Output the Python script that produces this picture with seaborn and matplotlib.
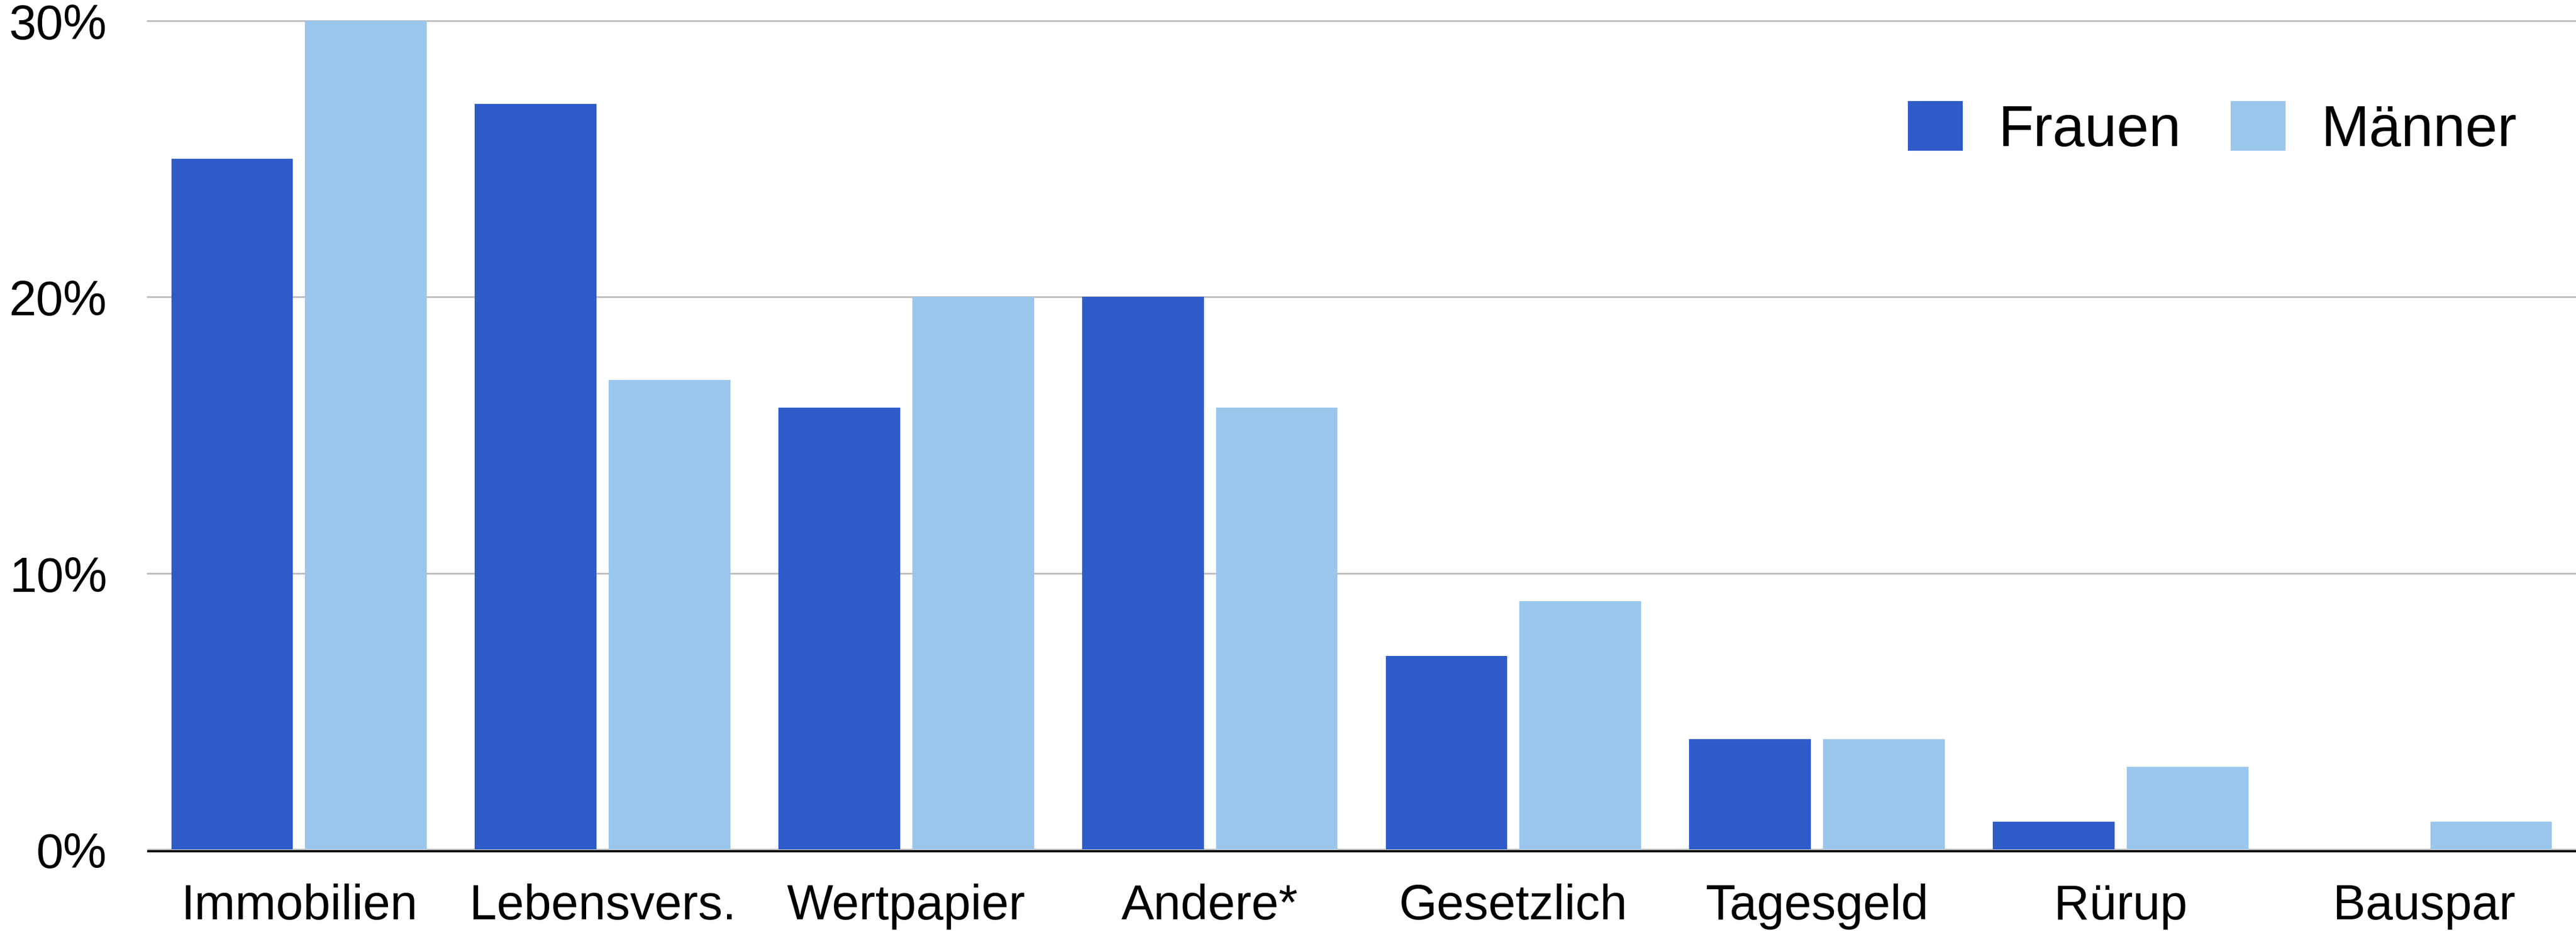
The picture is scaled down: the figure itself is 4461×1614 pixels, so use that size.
import matplotlib
matplotlib.use("Agg")
import matplotlib.pyplot as plt
import seaborn as sns
import pandas as pd
from matplotlib.patches import Patch

# Anteile der Altersvorsorge-Formen nach Geschlecht (in %)
categories = ["Immobilien", "Lebensvers.", "Wertpapier", "Andere*",
              "Gesetzlich", "Tagesgeld", "Rürup", "Bauspar"]
frauen = [25, 27, 16, 20, 7, 4, 1, 0]
maenner = [30, 17, 20, 16, 9, 4, 3, 1]
series = ["Frauen", "Männer"]
colors = ["#2F5BC9", "#9BC6EC"]
y_ticks = [0, 10, 20, 30]
y_tick_labels = ["0%", "10%", "20%", "30%"]

df = pd.DataFrame({
    "Kategorie": categories * 2,
    "Gruppe": [series[0]] * len(categories) + [series[1]] * len(categories),
    "Anteil": frauen + maenner,
})

sns.set_theme(style="white")
plt.rcParams["font.family"] = ["Liberation Sans", "DejaVu Sans"]
plt.rcParams["text.color"] = "black"

W, H, DPI = 4461, 1615, 100
fig = plt.figure(figsize=(W / DPI, H / DPI), dpi=DPI)
ax = fig.add_axes([255 / W, (H - 1472) / H, (W - 255) / W, (1472 - 37) / H])

sns.barplot(data=df, x="Kategorie", y="Anteil", hue="Gruppe",
            order=categories, hue_order=series, palette=colors,
            width=0.882, gap=0.091, saturation=1, legend=False,
            linewidth=0, ax=ax, zorder=3)

ax.set_xlim(-0.5, len(categories) - 0.5)
ax.set_ylim(0, 30)
ax.set_yticks(y_ticks)
ax.set_yticklabels(y_tick_labels)
ax.set_xlabel("")
ax.set_ylabel("")

for v in y_ticks[1:]:
    ax.axhline(v, color="#C0C0C0", linewidth=2.2, zorder=1, clip_on=False)
ax.axhline(0, color="#A8A8A8", linewidth=2.2, zorder=2)
ax.plot([0, 1], [-0.06, -0.06], transform=ax.get_yaxis_transform(),
        color="black", linewidth=3.0, zorder=4, clip_on=False,
        solid_capstyle="butt")

for s in ax.spines.values():
    s.set_visible(False)

ax.tick_params(axis="x", length=0, pad=42, labelsize=61, labelcolor="black")
ax.tick_params(axis="y", length=0, pad=50, labelsize=61, labelcolor="black")

handles = [Patch(facecolor=c, edgecolor="none", label=s) for c, s in zip(colors, series)]
fig.legend(handles=handles, loc="center left",
           bbox_to_anchor=(3304 / W, 1 - 225 / H), ncol=2, frameon=False,
           fontsize=72, handlelength=0.95, handleheight=0.95,
           handletextpad=0.62, columnspacing=0.85, borderpad=0,
           borderaxespad=0, labelcolor="black")

fig.savefig("out.png", dpi=DPI, facecolor="white")
